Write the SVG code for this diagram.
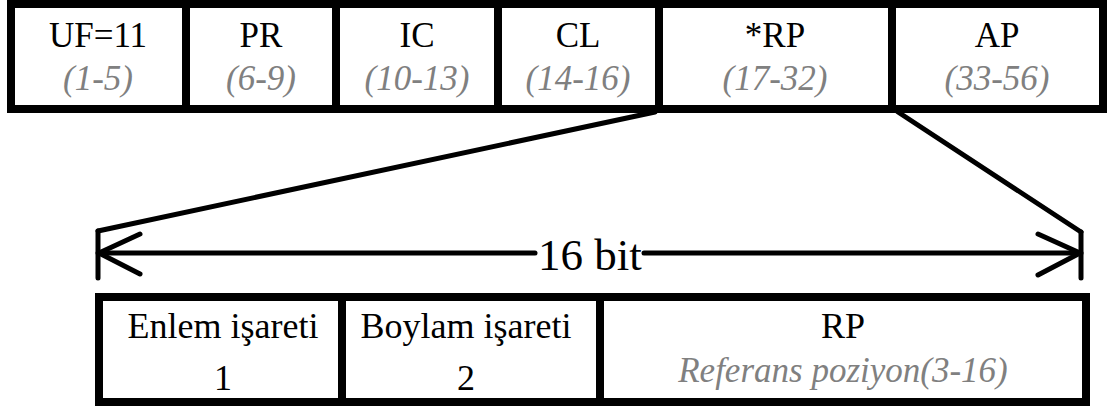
<svg xmlns="http://www.w3.org/2000/svg" width="1107" height="410" viewBox="0 0 1107 410">
  <style>
    .box { fill: #ffffff; stroke: #000000; stroke-width: 8; }
    .div { stroke: #000000; stroke-width: 8; }
    .lbl { font-family: "Liberation Serif", "Times New Roman", serif; font-size: 35px; fill: #000000; text-anchor: middle; }
    .big { font-size: 36px; }
    .sub { font-family: "Liberation Serif", "Times New Roman", serif; font-size: 35px; font-style: italic; fill: #808080; text-anchor: middle; }
    .dim { font-family: "Liberation Serif", "Times New Roman", serif; font-size: 45px; fill: #000000; text-anchor: middle; }
    .ln { stroke: #000000; stroke-width: 5; fill: none; stroke-linecap: round; stroke-linejoin: round; }
  </style>
  <rect width="1107" height="410" fill="#ffffff"/>

  <!-- Top frame: message fields -->
  <g id="frame-top">
    <rect class="box" x="11" y="4" width="1092" height="105"/>
  </g>
  <g id="field-uf">
    <text class="lbl" x="98" y="47">UF=11</text>
    <text class="sub" x="98" y="90">(1-5)</text>
  </g>
  <g id="field-pr">
    <line class="div" x1="186" y1="4" x2="186" y2="109"/>
    <text class="lbl" x="261" y="47">PR</text>
    <text class="sub" x="261" y="90">(6-9)</text>
  </g>
  <g id="field-ic">
    <line class="div" x1="336" y1="4" x2="336" y2="109"/>
    <text class="lbl" x="417" y="47">IC</text>
    <text class="sub" x="417" y="90">(10-13)</text>
  </g>
  <g id="field-cl">
    <line class="div" x1="498" y1="4" x2="498" y2="109"/>
    <text class="lbl" x="578" y="47">CL</text>
    <text class="sub" x="578" y="90">(14-16)</text>
  </g>
  <g id="field-rp">
    <line class="div" x1="659" y1="4" x2="659" y2="109"/>
    <text class="lbl" x="775" y="47">*RP</text>
    <text class="sub" x="775" y="90">(17-32)</text>
  </g>
  <g id="field-ap">
    <line class="div" x1="892" y1="4" x2="892" y2="109"/>
    <text class="lbl" x="997" y="47">AP</text>
    <text class="sub" x="997" y="90">(33-56)</text>
  </g>

  <!-- Expansion lines and 16-bit dimension -->
  <g id="connectors">
    <line class="ln" x1="655" y1="112" x2="98" y2="231"/>
    <line class="ln" x1="898" y1="112" x2="1081" y2="232"/>
    <line class="ln" x1="98" y1="231" x2="98" y2="278"/>
    <line class="ln" x1="1081" y1="232" x2="1081" y2="278"/>
    <line class="ln" x1="98" y1="253" x2="535" y2="253"/>
    <line class="ln" x1="644" y1="253" x2="1081" y2="253"/>
    <polyline class="ln" points="140,234 99,253 140,274"/>
    <polyline class="ln" points="1038,234 1080,253 1038,275"/>
  </g>
  <g id="dimension-label">
    <text class="dim" x="590" y="270">16 bit</text>
  </g>

  <!-- Bottom frame: RP breakdown -->
  <g id="frame-bottom">
    <rect class="box" x="99" y="297" width="987" height="105"/>
  </g>
  <g id="bit-lat-sign">
    <text class="lbl big" x="223" y="338">Enlem işareti</text>
    <text class="lbl big" x="223" y="390">1</text>
  </g>
  <g id="bit-lon-sign">
    <line class="div" x1="342" y1="297" x2="342" y2="402"/>
    <text class="lbl big" x="466" y="338">Boylam işareti</text>
    <text class="lbl big" x="466" y="390">2</text>
  </g>
  <g id="bits-rp">
    <line class="div" x1="600" y1="297" x2="600" y2="402"/>
    <text class="lbl big" x="843" y="338">RP</text>
    <text class="sub" x="843" y="382">Referans poziyon(3-16)</text>
  </g>
</svg>
